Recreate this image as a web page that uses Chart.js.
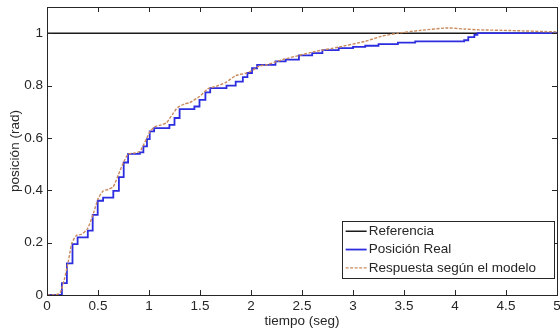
<!DOCTYPE html>
<html>
<head>
<meta charset="utf-8">
<script src="https://cdn.jsdelivr.net/npm/chart.js@4.4.0/dist/chart.umd.min.js"></script>
<style>
  html, body { margin: 0; padding: 0; background: #fff; }
  #wrap { width: 560px; height: 331px; }
</style>
</head>
<body>
<div id="wrap"><canvas id="posChart" width="560" height="331"></canvas></div>
<script>
// ----------------- Data -----------------
const seriesLabels = ["Referencia", "Posición Real", "Respuesta según el modelo"];

const tRef = [0, 5];
const yRef = [1, 1];

// measured position: jump points (value held until next time)
const tReal = [0, 0.146, 0.195, 0.25, 0.30, 0.40, 0.448, 0.497, 0.55, 0.65, 0.705, 0.752, 0.795,
  0.91, 0.945, 0.98, 1.007, 1.05, 1.2, 1.25, 1.30, 1.445, 1.495, 1.553, 1.60, 1.76, 1.85, 1.92,
  1.965, 2.01, 2.06, 2.24, 2.34, 2.47, 2.6, 2.7, 2.86, 3.0, 3.12, 3.25, 3.44, 3.61, 4.09, 4.13,
  4.19, 4.22, 5];
const yReal = [0, 0.045, 0.121, 0.194, 0.22, 0.246, 0.306, 0.36, 0.372, 0.398, 0.45, 0.506, 0.539,
  0.545, 0.568, 0.595, 0.625, 0.637, 0.65, 0.676, 0.71, 0.72, 0.745, 0.774, 0.79, 0.80, 0.815, 0.832,
  0.848, 0.866, 0.879, 0.892, 0.899, 0.915, 0.924, 0.935, 0.943, 0.948, 0.952, 0.958, 0.964, 0.969, 0.973, 0.985,
  0.994, 1.0, 1.0];

// model response
const tModel = [0, 0.08, 0.13, 0.17, 0.21, 0.243, 0.29, 0.34, 0.40, 0.455, 0.503, 0.552, 0.60, 0.65,
  0.70, 0.75, 0.795, 0.85, 0.91, 0.95, 1.007, 1.055, 1.12, 1.17, 1.23, 1.28, 1.35, 1.40, 1.495,
  1.575, 1.657, 1.754, 1.85, 1.95, 2.0, 2.08, 2.16, 2.31, 2.47, 2.63, 2.86, 3.12, 3.28, 3.44,
  3.67, 3.93, 4.09, 4.22, 4.55, 5];
const yModel = [0, 0, 0.01, 0.06, 0.13, 0.198, 0.228, 0.232, 0.255, 0.312, 0.37, 0.398, 0.403, 0.414,
  0.46, 0.506, 0.538, 0.542, 0.548, 0.576, 0.622, 0.642, 0.65, 0.657, 0.69, 0.716, 0.73, 0.735, 0.758,
  0.787, 0.797, 0.812, 0.838, 0.847, 0.855, 0.874, 0.88, 0.899, 0.915, 0.93, 0.947, 0.969, 0.988, 1.0,
  1.011, 1.02, 1.016, 1.013, 1.01, 1.005];

const xTicks = [0, 0.5, 1, 1.5, 2, 2.5, 3, 3.5, 4, 4.5, 5];
const yTicks = [0, 0.2, 0.4, 0.6, 0.8, 1];

// ----------------- Helpers -----------------
const FONT = "'Liberation Sans', Arial, Helvetica, sans-serif";
const TEXT = "#262626";

function toPoints(xs, ys) {
  return xs.map((x, i) => ({ x, y: ys[i] }));
}

// MATLAB-style box with inward ticks on all four sides
const boxAxesPlugin = {
  id: "boxAxes",
  afterDatasetsDraw(chart) {
    const { ctx, chartArea: a, scales } = chart;
    const len = 5;
    ctx.save();
    ctx.strokeStyle = "#262626";
    ctx.lineWidth = 1;
    ctx.beginPath();
    xTicks.forEach(v => {
      const px = Math.round(scales.x.getPixelForValue(v)) + 0.5;
      ctx.moveTo(px, a.bottom); ctx.lineTo(px, a.bottom - len);
      ctx.moveTo(px, a.top); ctx.lineTo(px, a.top + len);
    });
    yTicks.forEach(v => {
      const py = Math.round(scales.y.getPixelForValue(v)) + 0.5;
      ctx.moveTo(a.left, py); ctx.lineTo(a.left + len, py);
      ctx.moveTo(a.right, py); ctx.lineTo(a.right - len, py);
    });
    ctx.stroke();
    ctx.strokeRect(Math.round(a.left) + 0.5, Math.round(a.top) + 0.5,
      Math.round(a.right - a.left), Math.round(a.bottom - a.top));
    ctx.restore();
  }
};

// legend boxed inside the lower right corner of the axes
const insideLegendPlugin = {
  id: "insideLegend",
  afterDraw(chart) {
    const { ctx, chartArea: a } = chart;
    const sets = chart.data.datasets;
    ctx.save();
    ctx.font = "13.5px " + FONT;
    const textW = Math.max(...sets.map(d => ctx.measureText(d.label).width));
    const rowH = 18.3;
    const w = textW + 45;
    const h = rowH * sets.length + 2;
    const right = a.right - 3;
    const bottom = a.bottom - 17;
    const left = right - w;
    const top = bottom - h;
    ctx.fillStyle = "#fff";
    ctx.fillRect(left, top, w, h);
    ctx.strokeStyle = "#262626";
    ctx.lineWidth = 1;
    ctx.strokeRect(Math.round(left) + 0.5, Math.round(top) + 0.5, Math.round(w), Math.round(h));
    sets.forEach((d, i) => {
      const cy = top + 1 + rowH * (i + 0.5);
      ctx.strokeStyle = d.borderColor;
      ctx.lineWidth = d.borderWidth;
      ctx.setLineDash(d.borderDash || []);
      ctx.beginPath();
      ctx.moveTo(left + 4, cy);
      ctx.lineTo(left + 25, cy);
      ctx.stroke();
      ctx.setLineDash([]);
      ctx.fillStyle = TEXT;
      ctx.textBaseline = "middle";
      ctx.textAlign = "left";
      ctx.fillText(d.label, left + 27, cy);
    });
    ctx.restore();
  }
};

// ----------------- Chart -----------------
const ctx = document.getElementById("posChart").getContext("2d");
new Chart(ctx, {
  type: "line",
  data: {
    datasets: [
      {
        label: seriesLabels[0],
        data: toPoints(tRef, yRef),
        borderColor: "#1a1a1a",
        borderWidth: 1.5,
        pointRadius: 0,
        order: 3
      },
      {
        label: seriesLabels[1],
        data: toPoints(tReal, yReal),
        borderColor: "#2d2de0",
        borderWidth: 1.8,
        pointRadius: 0,
        stepped: "before",
        order: 2
      },
      {
        label: seriesLabels[2],
        data: toPoints(tModel, yModel),
        borderColor: "#c98a5c",
        borderWidth: 1.4,
        borderDash: [3, 1.5],
        pointRadius: 0,
        tension: 0.2,
        order: 1
      }
    ]
  },
  options: {
    responsive: false,
    animation: false,
    devicePixelRatio: 1,
    layout: { padding: { top: 7, right: 3, left: 0, bottom: 0 } },
    plugins: { legend: { display: false }, tooltip: { enabled: false } },
    scales: {
      x: {
        type: "linear",
        min: 0,
        max: 5,
        afterBuildTicks: s => { s.ticks = xTicks.map(v => ({ value: v })); },
        afterFit: s => { s.height = 36; s.paddingLeft = 0; s.paddingRight = 0; },
        grid: { display: true, drawOnChartArea: false, drawTicks: false },
        border: { display: false },
        ticks: {
          padding: 3,
          maxRotation: 0,
          autoSkip: false,
          color: TEXT,
          font: { family: FONT, size: 13.5 },
          callback: v => String(v)
        },
        title: {
          display: true,
          text: "tiempo (seg)",
          color: TEXT,
          font: { family: FONT, size: 13.5 },
          padding: { top: 0, bottom: 2 }
        }
      },
      y: {
        min: 0,
        max: 1.1,
        afterBuildTicks: s => { s.ticks = yTicks.map(v => ({ value: v })); },
        afterFit: s => { s.width = 47; s.paddingTop = 0; s.paddingBottom = 0; },
        grid: { display: true, drawOnChartArea: false, drawTicks: false },
        border: { display: false },
        ticks: {
          padding: 4,
          autoSkip: false,
          color: TEXT,
          font: { family: FONT, size: 13.5 },
          callback: v => String(v)
        },
        title: {
          display: true,
          text: "posición (rad)",
          color: TEXT,
          font: { family: FONT, size: 13.5 },
          padding: { top: 7, bottom: 0 }
        }
      }
    }
  },
  plugins: [boxAxesPlugin, insideLegendPlugin]
});
</script>
</body>
</html>
